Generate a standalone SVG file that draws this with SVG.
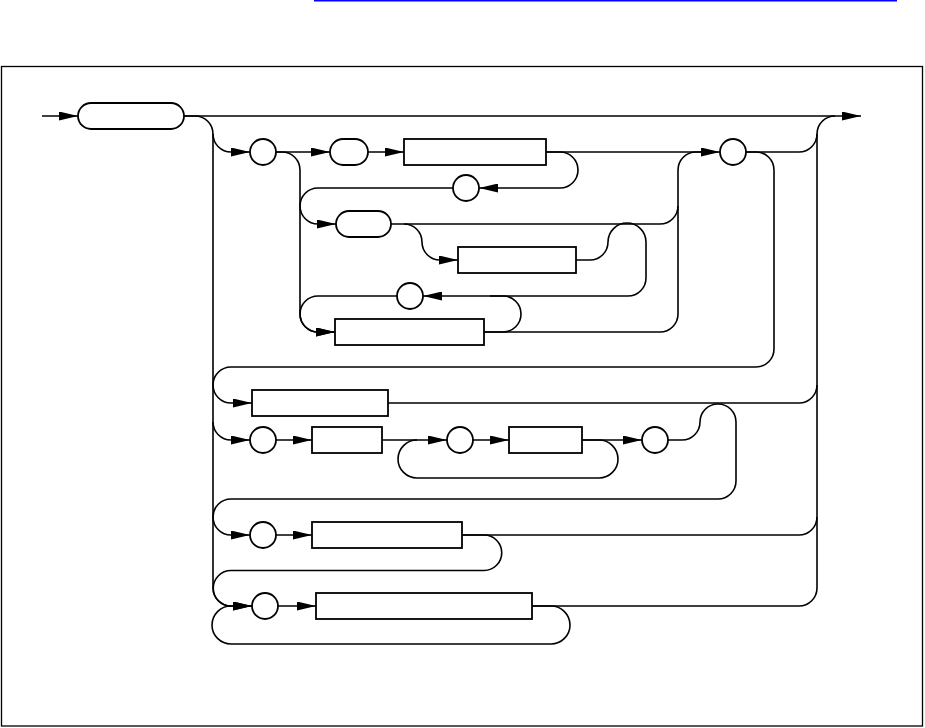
<svg xmlns="http://www.w3.org/2000/svg" width="925" height="728" viewBox="0 0 925 728">
<style>
.c{fill:none;stroke:#000;stroke-width:1.6}
.n{fill:#fff;stroke:#000;stroke-width:1.8}
.a{marker-end:url(#ah)}
</style>
<defs>
<marker id="ah" markerUnits="userSpaceOnUse" viewBox="0 0 19 9" refX="19" refY="4.5" markerWidth="19" markerHeight="9" orient="auto">
<path d="M0,0 L19,4.5 L0,9 z" fill="#000"/>
</marker>
</defs>
<rect x="0" y="0" width="925" height="728" fill="#fff"/>
<rect x="314" y="0" width="583" height="1.5" fill="#0000ff"/>
<rect x="1.5" y="66.5" width="921" height="659.5" fill="none" stroke="#000" stroke-width="1.3"/>
<g id="connectors">
<path class="c a" d="M42,116 H78"/>
<path class="c a" d="M184,116 H861"/>
<path class="c a" d="M184,116 H195 A18,18 0 0 1 213,134 V588 A18,18 0 0 0 231,606 H252"/>
<path class="c" d="M817,134 V588"/>
<path class="c a" d="M213,134 A18,18 0 0 0 231,152 H250"/>
<path class="c a" d="M276,152 H330"/>
<path class="c a" d="M368,152 H404"/>
<path class="c a" d="M546,152 H720"/>
<path class="c" d="M746,152 H799 A18,18 0 0 0 817,134 A18,18 0 0 1 835,116"/>
<path class="c a" d="M546,152 H560 A18,18 0 0 1 560,188 H479"/>
<path class="c a" d="M453,188 H318 A18,18 0 0 0 318,224 H336"/>
<path class="c" d="M276,152 H282 A18,18 0 0 1 300,170 V314"/>
<path class="c a" d="M300,314 A18,18 0 0 0 318,332 H335"/>
<path class="c" d="M391,224 H660 A18,18 0 0 0 678,206 V170 A18,18 0 0 1 696,152 H702"/>
<path class="c" d="M484,332 H660 A18,18 0 0 0 678,314 V206"/>
<path class="c a" d="M404,224 A18,18 0 0 1 422,242 A18,18 0 0 0 440,260 H458"/>
<path class="c a" d="M576,260 H590 A18,18 0 0 0 608,242 A19,19 0 0 1 646,242 V278 A18,18 0 0 1 628,296 H423"/>
<path class="c a" d="M397,296 H318 A18,18 0 0 0 318,332 H335"/>
<path class="c" d="M484,332 H503 A18,18 0 0 0 503,296 H490"/>
<path class="c a" d="M746,152 H756 A18,18 0 0 1 774,170 V349 A18,18 0 0 1 756,367 H231 A18,18 0 0 0 231,403 H252"/>
<path class="c" d="M388,403 H799 A18,18 0 0 0 817,385"/>
<path class="c a" d="M213,422 A18,18 0 0 0 231,440 H250"/>
<path class="c a" d="M276,440 H312"/>
<path class="c a" d="M382,440 H447"/>
<path class="c a" d="M473,440 H509"/>
<path class="c a" d="M582,440 H642"/>
<path class="c" d="M582,440 H599 A19,19 0 0 1 599,478 H417 A19,19 0 0 1 417,440"/>
<path class="c a" d="M668,440 H682 A18,18 0 0 0 700,422 A18,18 0 0 1 736,422 V481 A18,18 0 0 1 718,499 H231 A18,18 0 0 0 231,535 H250"/>
<path class="c a" d="M276,535 H312"/>
<path class="c" d="M462,535 H799 A18,18 0 0 0 817,517"/>
<path class="c a" d="M462,535 H484 A17.75,17.75 0 0 1 484,570.5 H231 A17.75,17.75 0 0 0 231,606 H252"/>
<path class="c a" d="M278,606 H316"/>
<path class="c" d="M532,606 H799 A18,18 0 0 0 817,588"/>
<path class="c" d="M532,606 H551 A19,19 0 0 1 551,644 H231 A19,19 0 0 1 231,606"/>
</g>
<g id="n-start"><rect class="n" x="78" y="103" width="106" height="26" rx="13"/></g>
<g id="n-c1"><circle class="n" cx="263" cy="152" r="13"/></g>
<g id="n-t1"><rect class="n" x="330" y="139" width="38" height="26" rx="13"/></g>
<g id="n-r1"><rect class="n" x="404" y="139" width="142" height="26"/></g>
<g id="n-c2"><circle class="n" cx="466" cy="188" r="13"/></g>
<g id="n-t2"><rect class="n" x="336" y="211" width="55" height="26" rx="13"/></g>
<g id="n-r2"><rect class="n" x="458" y="247" width="118" height="26"/></g>
<g id="n-c3"><circle class="n" cx="410" cy="296" r="13"/></g>
<g id="n-r3"><rect class="n" x="335" y="319" width="149" height="26"/></g>
<g id="n-c4"><circle class="n" cx="733" cy="152" r="13"/></g>
<g id="n-r4"><rect class="n" x="252" y="390" width="136" height="26"/></g>
<g id="n-c5"><circle class="n" cx="263" cy="440" r="13"/></g>
<g id="n-r5"><rect class="n" x="312" y="427" width="70" height="26"/></g>
<g id="n-c6"><circle class="n" cx="460" cy="440" r="13"/></g>
<g id="n-r6"><rect class="n" x="509" y="427" width="73" height="26"/></g>
<g id="n-c7"><circle class="n" cx="655" cy="440" r="13"/></g>
<g id="n-c8"><circle class="n" cx="263" cy="535" r="13"/></g>
<g id="n-r7"><rect class="n" x="312" y="522" width="150" height="26"/></g>
<g id="n-c9"><circle class="n" cx="265" cy="606" r="13"/></g>
<g id="n-r8"><rect class="n" x="316" y="593" width="216" height="26"/></g>
</svg>
